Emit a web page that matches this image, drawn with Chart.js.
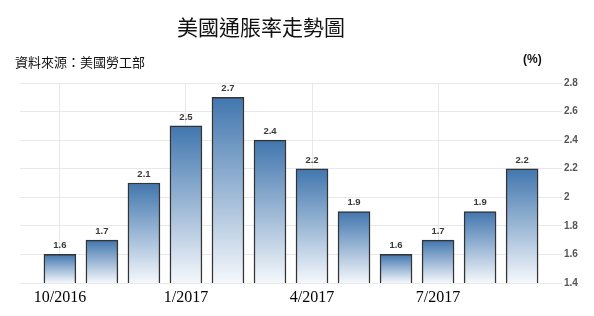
<!DOCTYPE html>
<html>
<head>
<meta charset="utf-8">
<script src="https://cdn.jsdelivr.net/npm/chart.js@4.4.0/dist/chart.umd.min.js"></script>
<style>
html,body{margin:0;padding:0;background:#fff;}
#wrap{width:594px;height:316px;position:relative;}
</style>
</head>
<body>
<div id="wrap"><canvas id="c" width="594" height="316"></canvas></div>
<script>
// Data
const months = ["10/2016","11/2016","12/2016","1/2017","2/2017","3/2017","4/2017","5/2017","6/2017","7/2017","8/2017","9/2017"];
const inflation = [1.6, 1.7, 2.1, 2.5, 2.7, 2.4, 2.2, 1.9, 1.6, 1.7, 1.9, 2.2];
const xTickIndexes = [0, 3, 6, 9];
const yTicks = [1.4, 1.6, 1.8, 2.0, 2.2, 2.4, 2.6, 2.8];
const titleText = "美國通脹率走勢圖";
const sourceText = "資料來源：美國勞工部";
const unitText = "(%)";

const points = inflation.map((v, i) => ({x: i, y: v}));

const textPlugin = {
  id: 'texts',
  afterDraw(chart) {
    const c = chart.ctx;
    c.save();
    c.fillStyle = '#111';
    c.textBaseline = 'middle';
    c.textAlign = 'center';
    c.font = '400 21px "Noto Sans CJK TC"';
    c.fillText(titleText, 261, 27);
    c.textAlign = 'left';
    c.font = '13px "Noto Sans CJK TC"';
    c.fillText(sourceText, 15, 62);
    c.font = 'bold 12px "Liberation Sans"';
    c.fillText(unitText, 523, 60);
    c.restore();
  }
};

const labelPlugin = {
  id: 'barLabels',
  afterDatasetsDraw(chart) {
    const c = chart.ctx;
    const meta = chart.getDatasetMeta(0);
    c.save();
    c.font = 'bold 9.5px "Liberation Sans"';
    c.fillStyle = '#3a3a3a';
    c.textAlign = 'center';
    c.textBaseline = 'bottom';
    meta.data.forEach((el, i) => {
      c.fillText(inflation[i].toFixed(1), el.x, el.y - 4);
    });
    c.restore();
  }
};

new Chart(document.getElementById('c'), {
  type: 'bar',
  data: {
    datasets: [{
      data: points,
      barThickness: 32,
      borderWidth: 1.5,
      borderColor: '#333',
      borderSkipped: false,
      backgroundColor: (ctx) => {
        const chart = ctx.chart;
        if (!chart.chartArea || !ctx.parsed) return '#4a7db5';
        const ys = chart.scales.y;
        const top = ys.getPixelForValue(ctx.parsed.y);
        const bottom = ys.getPixelForValue(yTicks[0]);
        if (!isFinite(top) || !isFinite(bottom) || top === bottom) return '#4a7db5';
        const g = chart.ctx.createLinearGradient(0, top, 0, bottom);
        g.addColorStop(0, '#4176ae');
        g.addColorStop(1, '#f5f8fc');
        return g;
      }
    }]
  },
  options: {
    responsive: false,
    animation: false,
    events: [],
    layout: {padding: {left: 20, right: 0, top: 83, bottom: 0}},
    plugins: {legend: {display: false}, tooltip: {enabled: false}},
    scales: {
      x: {
        type: 'linear',
        offset: false,
        min: -0.95,
        max: 11.95,
        afterBuildTicks: (s) => { s.ticks = xTickIndexes.map(v => ({value: v})); },
        afterFit: (s) => { s.height = 33; },
        grid: {color: '#e8e8e8', lineWidth: 1, drawTicks: false, offset: false},
        border: {display: false},
        ticks: {
          autoSkip: false,
          maxRotation: 0,
          padding: 5,
          color: '#000',
          font: {family: '"Liberation Serif"', size: 16},
          callback: (v) => months[v]
        }
      },
      y: {
        position: 'right',
        min: yTicks[0],
        max: yTicks[yTicks.length - 1],
        afterBuildTicks: (s) => { s.ticks = yTicks.map(v => ({value: v})); },
        afterFit: (s) => { s.width = 32; },
        grid: {color: '#e8e8e8', lineWidth: 1, drawTicks: false},
        border: {display: false},
        ticks: {
          padding: 2,
          color: '#555',
          font: {family: '"Liberation Sans"', size: 10, weight: 'bold'},
          callback: (v) => String(Math.round(v * 10) / 10)
        }
      }
    }
  },
  plugins: [textPlugin, labelPlugin]
});
</script>
</body>
</html>
